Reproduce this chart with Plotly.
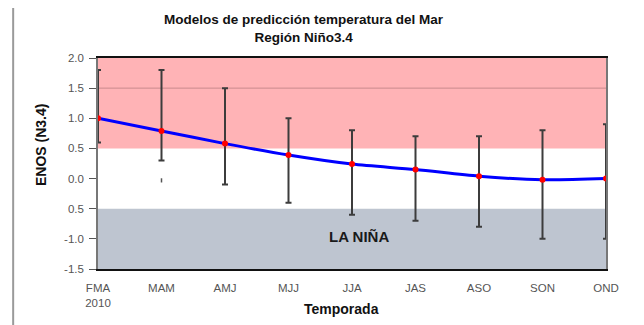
import plotly.graph_objects as go

seasons = ["FMA", "MAM", "AMJ", "MJJ", "JJA", "JAS", "ASO", "SON", "OND"]
season_labels = ["FMA<br>2010", "MAM", "AMJ", "MJJ", "JJA", "JAS", "ASO", "SON", "OND"]
mean_vals = [1.0, 0.79, 0.58, 0.39, 0.24, 0.15, 0.04, -0.02, 0.0]
upper_vals = [1.8, 1.8, 1.5, 1.0, 0.8, 0.7, 0.7, 0.8, 0.9]
lower_vals = [0.6, 0.3, -0.1, -0.4, -0.6, -0.7, -0.8, -1.0, -1.0]
stray_season = ["MAM"]
stray_vals = [-0.03]
y_tick_vals = [2.0, 1.5, 1.0, 0.5, 0.0, -0.5, -1.0, -1.5]
y_tick_text = ["2.0", "1.5", "1.0", "0.5", "0.0", "0.5", "-1.0", "-1.5"]
nino_band = [0.5, 2.0]
nina_band = [-1.5, -0.5]
grid_level = 1.5

x = list(range(len(seasons)))
err_plus = [u - m for u, m in zip(upper_vals, mean_vals)]
err_minus = [m - l for m, l in zip(mean_vals, lower_vals)]

FONT = "Liberation Sans, Arial, sans-serif"

fig = go.Figure()

fig.add_trace(go.Scatter(
    x=x, y=mean_vals, mode="markers",
    marker=dict(size=1, color="rgba(0,0,0,0)"),
    error_y=dict(type="data", symmetric=False, array=err_plus, arrayminus=err_minus,
                 color="#3c3c3c", thickness=2, width=3),
    showlegend=False, hoverinfo="skip"))

fig.add_trace(go.Scatter(
    x=[seasons.index(s) for s in stray_season], y=stray_vals, mode="markers",
    marker=dict(symbol="line-ns", size=3, line=dict(color="#555", width=1.5)),
    showlegend=False, hoverinfo="skip"))

fig.add_trace(go.Scatter(
    x=x, y=mean_vals, mode="lines+markers",
    line=dict(color="#0000FF", width=3, shape="spline", smoothing=0.8),
    marker=dict(color="#FF0000", size=6),
    showlegend=False))

fig.add_shape(type="rect", xref="x", yref="y", x0=0, x1=8, y0=nino_band[0], y1=nino_band[1],
              fillcolor="#FFB3B6", line=dict(width=0), layer="below")
fig.add_shape(type="rect", xref="x", yref="y", x0=0, x1=8, y0=nina_band[0], y1=nina_band[1],
              fillcolor="#BEC5D0", line=dict(width=0), layer="below")
fig.add_shape(type="line", xref="x", yref="y", x0=0, x1=8, y0=grid_level, y1=grid_level,
              line=dict(color="#C98A8C", width=1), layer="below")
fig.add_shape(type="line", xref="paper", yref="paper", x0=-0.167, x1=-0.167, y0=-0.3, y1=1.3,
              line=dict(color="#9a9a9a", width=2))

fig.add_annotation(x=4.11, y=-0.96, xref="x", yref="y", text="<b>LA NIÑA</b>",
                   showarrow=False, font=dict(family=FONT, size=15, color="#1a1a1a"))

fig.add_annotation(x=0.405, y=1.1386, xref="paper", yref="paper", yanchor="middle",
                   text="<b>Modelos de predicción temperatura del Mar<br>Región Niño3.4</b>",
                   showarrow=False, font=dict(family=FONT, size=13.5, color="#111"))
fig.add_annotation(x=0.480, y=-0.19, xref="paper", yref="paper", yanchor="middle",
                   text="<b>Temporada</b>", showarrow=False,
                   font=dict(family=FONT, size=14, color="#111"))
fig.add_annotation(x=-0.112, y=0.588, xref="paper", yref="paper", textangle=-90,
                   xanchor="center", yanchor="middle",
                   text="<b>ENOS (N3.4)</b>", showarrow=False,
                   font=dict(family=FONT, size=14, color="#111"))

fig.update_layout(
    width=636, height=317,
    margin=dict(l=90, r=38, t=50, b=56),
    paper_bgcolor="white", plot_bgcolor="white",
    font=dict(family=FONT, size=11, color="#555"),
    xaxis=dict(range=[0, 8], tickvals=x, ticktext=season_labels, showgrid=False,
               zeroline=False, showline=True, linecolor="#111", linewidth=1.5, mirror=True,
               ticks="outside", ticklen=7, tickcolor="rgba(0,0,0,0)",
               tickfont=dict(size=11.5, color="#555")),
    yaxis=dict(range=[-1.5, 2.0], tickvals=y_tick_vals, ticktext=y_tick_text, showgrid=False,
               zeroline=False, showline=True, linecolor="#777", linewidth=1.5, mirror=True,
               ticks="outside", ticklen=7, tickcolor="#555", ticklabelstandoff=3,
               tickfont=dict(size=11.5, color="#555")),
)

fig.write_html("out.html")
